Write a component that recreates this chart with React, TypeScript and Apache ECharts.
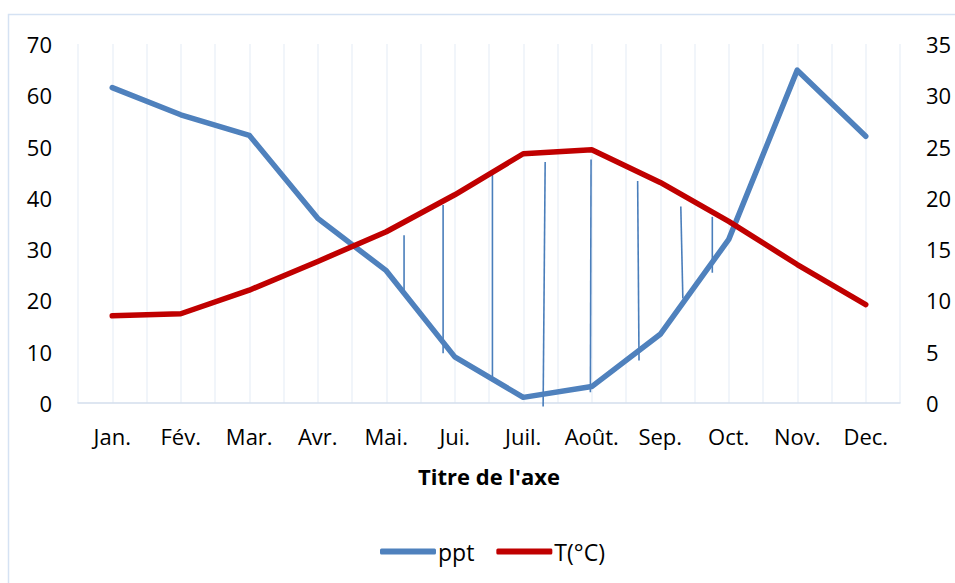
import React, { useEffect, useRef } from "react";
import * as echarts from "echarts";

const months = ["Jan.", "Fév.", "Mar.", "Avr.", "Mai.", "Jui.", "Juil.", "Août.", "Sep.", "Oct.", "Nov.", "Dec."];
const ppt = [61.5, 56.2, 52.2, 36.0, 25.8, 9.0, 1.1, 3.2, 13.4, 31.9, 64.9, 52.0];
const temp = [8.5, 8.7, 11.0, 13.8, 16.7, 20.3, 24.3, 24.7, 21.5, 17.7, 13.5, 9.6];

// hand-drawn hatch strokes (x in month units 0..12, y in ppt units)
const hatchTopX = [4.76, 5.33, 6.05, 6.82, 7.49, 8.17, 8.8, 9.26];
const hatchTopY = [32.7, 38.6, 44.8, 47.0, 47.5, 43.3, 38.3, 36.3];
const hatchBottomX = [4.76, 5.33, 6.05, 6.79, 7.48, 8.19, 8.83, 9.26];
const hatchBottomY = [22.0, 9.7, 5.1, -0.7, 2.1, 8.3, 20.4, 25.4];

const FONT = "Open Sans";

export default function App() {
  const ref = useRef<HTMLDivElement>(null);
  useEffect(() => {
    if (!ref.current) return;
    const chart = echarts.init(ref.current, null, { renderer: "svg" });
    const hatchData = hatchTopX.map((x, i) => [x, hatchTopY[i], hatchBottomX[i], hatchBottomY[i]]);
    chart.setOption({
      animation: false,
      textStyle: { fontFamily: FONT },
      graphic: [
        {
          type: "rect",
          shape: { x: 8.5, y: 14.5, width: 1000, height: 700 },
          style: { fill: "none", stroke: "#d5e2f3", lineWidth: 1.5 },
          silent: true,
          z: -10,
        },
      ],
      grid: { left: 78, right: 55, top: 44, bottom: 180, containLabel: false },
      legend: {
        bottom: 20,
        left: 380,
        padding: 0,
        itemWidth: 56,
        itemHeight: 6,
        itemGap: 22,
        icon: "roundRect",
        textStyle: { fontFamily: FONT, fontSize: 23, color: "#000", padding: [0, 0, 0, -3] },
        data: ["ppt", "T(°C)"],
      },
      xAxis: [
        {
          type: "category",
          data: months,
          boundaryGap: true,
          axisLine: { show: true, lineStyle: { color: "#d3deed", width: 1.5 } },
          axisTick: { show: false },
          axisLabel: { fontFamily: FONT, fontSize: 22, color: "#000", margin: 22, interval: 0 },
          splitLine: { show: false },
          name: "Titre de l'axe",
          nameLocation: "middle",
          nameGap: 62,
          nameTextStyle: { fontFamily: FONT, fontSize: 22, fontWeight: "bold", color: "#000" },
        },
        {
          type: "value",
          min: 0,
          max: 12,
          interval: 0.5,
          show: true,
          axisLine: { show: false },
          axisTick: { show: false },
          axisLabel: { show: false },
          splitLine: { show: true, lineStyle: { color: "#edf2f9", width: 1.5 } },
        },
      ],
      yAxis: [
        {
          type: "value",
          min: 0,
          max: 70,
          interval: 10,
          axisLine: { show: false },
          axisTick: { show: false },
          splitLine: { show: false },
          axisLabel: { fontFamily: FONT, fontSize: 22, color: "#000", margin: 26 },
        },
        {
          type: "value",
          min: 0,
          max: 35,
          interval: 5,
          position: "right",
          axisLine: { show: false },
          axisTick: { show: false },
          splitLine: { show: false },
          axisLabel: { fontFamily: FONT, fontSize: 22, color: "#000", margin: 26 },
        },
      ],
      series: [
        {
          type: "custom",
          name: "hatch",
          xAxisIndex: 1,
          yAxisIndex: 0,
          clip: false,
          silent: true,
          data: hatchData,
          renderItem: (params: any, api: any) => {
            const p1 = api.coord([api.value(0), api.value(1)]);
            const p2 = api.coord([api.value(2), api.value(3)]);
            return {
              type: "line",
              shape: { x1: p1[0], y1: p1[1], x2: p2[0], y2: p2[1] },
              style: { stroke: "#4a7ebb", lineWidth: 1.6 },
            };
          },
          z: 1,
        },
        {
          name: "ppt",
          type: "line",
          data: ppt,
          xAxisIndex: 0,
          yAxisIndex: 0,
          symbol: "none",
          color: "#4f81bd",
          lineStyle: { width: 5.5, color: "#4f81bd", cap: "round", join: "round" },
          z: 3,
        },
        {
          name: "T(°C)",
          type: "line",
          data: temp,
          xAxisIndex: 0,
          yAxisIndex: 1,
          symbol: "none",
          color: "#c00000",
          lineStyle: { width: 5.5, color: "#c00000", cap: "round", join: "round" },
          z: 4,
        },
      ],
    });
    return () => chart.dispose();
  }, []);
  return <div ref={ref} style={{ position: "absolute", left: 0, top: 0, width: 955, height: 583 }} />;
}
